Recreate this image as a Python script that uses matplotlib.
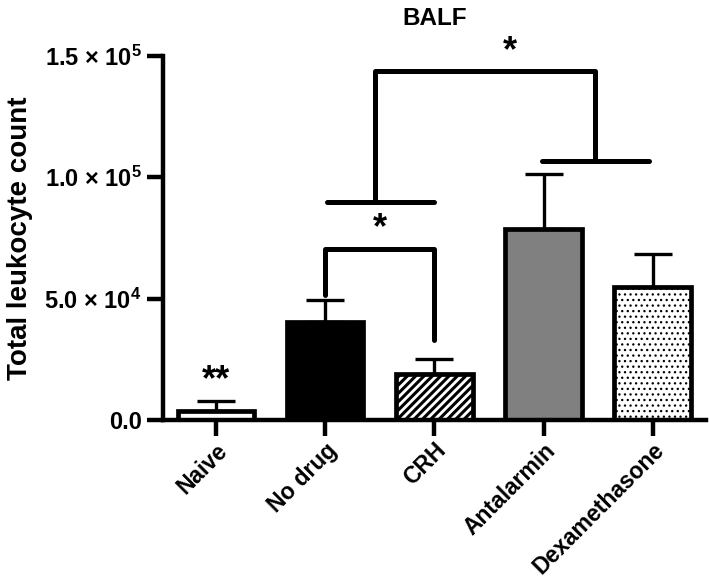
import matplotlib
matplotlib.use('Agg')
import matplotlib.pyplot as plt
import numpy as np

# data
groups = ['Naive', 'No drug', 'CRH', 'Antalarmin', 'Dexamethasone']
means = [3500, 40500, 19000, 78500, 54800]
sem = [4400, 8700, 6200, 22800, 13700]
fills = ['white', 'black', 'white', '#808080', 'white']
hatches = [None, None, '////', None, '...']

plt.rcParams.update({
    'font.family': ['Liberation Sans', 'DejaVu Sans'],
    'font.weight': 'bold',
    'font.size': 17,
    'mathtext.default': 'regular',
    'hatch.color': 'black',
})

fig = plt.figure(figsize=(7.09, 5.83), dpi=100)
ax = fig.add_axes([0.230, 0.2796, 0.766, 0.6249])

x = np.arange(len(groups))
for i in range(len(groups)):
    plt.rcParams['hatch.linewidth'] = 2.2 if hatches[i] == '////' else 0.9
    b = ax.bar(x[i], means[i], 0.7, color=fills[i], edgecolor='black',
               linewidth=3.4, hatch=hatches[i], zorder=2)
    for p in b:
        if hasattr(p, 'set_hatch_linewidth'):
            p.set_hatch_linewidth(plt.rcParams['hatch.linewidth'])

ax.errorbar(x, means, yerr=[np.zeros(len(sem)), sem], fmt='none',
            ecolor='black', elinewidth=2.4, capsize=14, capthick=2.4, zorder=1)

ax.set_xlim(-0.485, 4.49)
ax.set_ylim(0, 150000)
ax.set_yticks([0, 50000, 100000, 150000])
ax.set_yticklabels(['0.0', r'5.0 × 10$^{4}$', r'1.0 × 10$^{5}$', r'1.5 × 10$^{5}$'])
ax.set_xticks(x)
ax.set_xticklabels(groups, rotation=45, ha='right', rotation_mode='anchor',
                   fontsize=16.5)

for s in ['top', 'right']:
    ax.spines[s].set_visible(False)
for s in ['left', 'bottom']:
    ax.spines[s].set_linewidth(3.2)
ax.tick_params(width=3.2, length=11.5, pad=4)
ax.tick_params(axis='x', pad=2)

ax.set_ylabel('Total leukocyte count', fontsize=20, fontweight='bold', labelpad=8)
ax.set_title('BALF', fontsize=17.5, fontweight='bold', pad=22)

# significance brackets
lw = 3.6
kw = dict(color='black', lw=lw, solid_capstyle='round', clip_on=False, zorder=3)
ax.plot([1, 1, 2, 2], [51500, 70400, 70400, 33000], **kw)
ax.text(1.5, 71500, '*', ha='center', va='bottom', fontsize=26)

ax.plot([1.02, 2.0], [89800, 89800], **kw)
ax.plot([2.99, 3.97], [106800, 106800], **kw)
ax.plot([1.46, 1.46, 3.47, 3.47], [89800, 143700, 143700, 106800], **kw)
ax.text(2.69, 144500, '*', ha='center', va='bottom', fontsize=26)

ax.text(0, 9000, '**', ha='center', va='bottom', fontsize=26)

plt.savefig('out.png', dpi=100)
